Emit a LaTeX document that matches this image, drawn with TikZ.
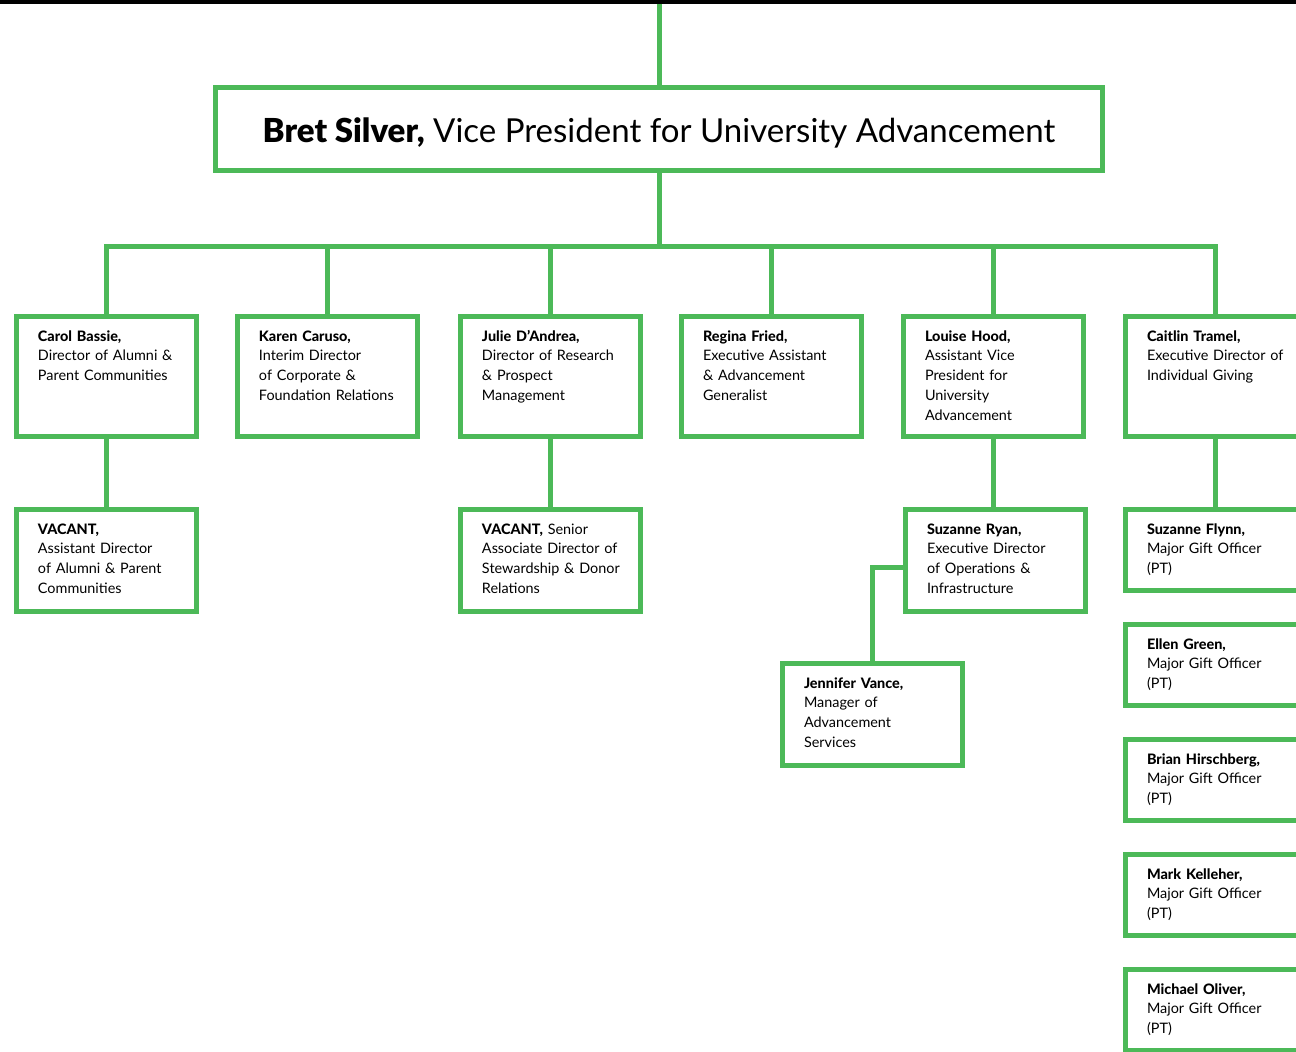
\documentclass[tikz,border=0pt]{standalone}
\usepackage{fontspec}
\setmainfont{Lato}
\IfFontExistsTF{Lato Black}{\newfontfamily\heavyfont{Lato Black}}{\newcommand\heavyfont{\bfseries}}
\IfFontExistsTF{Lato Heavy}{\newfontfamily\namefont{Lato Heavy}}{\newcommand\namefont{\bfseries}}
\newcommand\who[1]{{\namefont #1}}
\definecolor{ugreen}{RGB}{76,185,88}
\tikzset{
  link/.style={draw=ugreen, line width=0.1cm},
  post/.style={draw=ugreen, line width=0.1cm, anchor=north west, inner sep=0pt,
    text width=3.6cm, align=left, text height=0.49cm,
    font=\fontsize{8.2}{11.34}\selectfont,
    execute at begin node={\leftskip=0.43cm}},
  rowone/.style={text depth=1.91cm},
  rowtwo/.style={text depth=1.55cm},
  gift/.style={text depth=1.13cm}
}
\begin{document}
\begin{tikzpicture}[x=0.02cm,y=-0.02cm]
\useasboundingbox (0,0) rectangle (1296,1052);
\clip (0,0) rectangle (1296,1052);

% head of the chart
\coordinate (top) at (659,0);
\coordinate (hub) at (659,246);
\node (vp) at (659,129) [draw=ugreen, line width=0.1cm, minimum width=17.74cm, minimum height=1.66cm, text height=0.55cm, text depth=0.03cm, font=\fontsize{18.8}{22}\selectfont] {{\heavyfont Bret Silver,} Vice President for University Advancement};
\draw[link] (top) -- (vp.north);
\draw[link] (vp.south) -- (hub);
\fill (0,0) rectangle (1296,3.5);

% directors
\node (carol) at (14,314) [post, rowone] {\who{Carol Bassie,}\\Director of Alumni \&\\Parent Communities};
\node (karen) at (235,314) [post, rowone] {\who{Karen Caruso,}\\Interim Director\\of Corporate \&\\Foundation Relations};
\node (julie) at (458,314) [post, rowone] {\who{Julie D’Andrea,}\\Director of Research\\\& Prospect\\Management};
\node (regina) at (679,314) [post, rowone] {\who{Regina Fried,}\\Executive Assistant\\\& Advancement\\Generalist};
\node (louise) at (901,314) [post, rowone] {\who{Louise Hood,}\\Assistant Vice\\President for\\University\\Advancement};
\node (caitlin) at (1123,314) [post, rowone] {\who{Caitlin Tramel,}\\Executive Director of\\Individual Giving};

\draw[link]
(hub) -| (carol.north)
(hub) -| (karen.north)
(hub) -| (julie.north)
(hub) -| (regina.north)
(hub) -| (louise.north)
(hub) -| (caitlin.north);

% second level
\node (vacantA) at (14,507) [post, rowtwo] {\who{VACANT,}\\Assistant Director\\of Alumni \& Parent\\Communities};
\node (vacantB) at (458,507) [post, rowtwo] {\who{VACANT,} Senior\\Associate Director of\\Stewardship \& Donor\\Relations};
\node (ryan) at (903,507) [post, rowtwo] {\who{Suzanne Ryan,}\\Executive Director\\of Operations \&\\Infrastructure};
\node (vance) at (780,661) [post, rowtwo] {\who{Jennifer Vance,}\\Manager of\\Advancement\\Services};

% major gift officers
\node (flynn) at (1123,507) [post, gift] {\who{Suzanne Flynn,}\\Major Gift Officer\\(PT)};
\node (green) at (1123,622) [post, gift] {\who{Ellen Green,}\\Major Gift Officer\\(PT)};
\node (hirsch) at (1123,737) [post, gift] {\who{Brian Hirschberg,}\\Major Gift Officer\\(PT)};
\node (kelleher) at (1123,852) [post, gift] {\who{Mark Kelleher,}\\Major Gift Officer\\(PT)};
\node (oliver) at (1123,967) [post, gift] {\who{Michael Oliver,}\\Major Gift Officer\\(PT)};

\draw[link]
(carol.south) -- (vacantA.north)
(julie.south) -- (vacantB.north)
(louise.south) -- (louise.south |- ryan.north)
(caitlin.south) -- (flynn.north)
([yshift=-0.14cm]ryan.west) -| (vance.north);
\end{tikzpicture}
\end{document}
